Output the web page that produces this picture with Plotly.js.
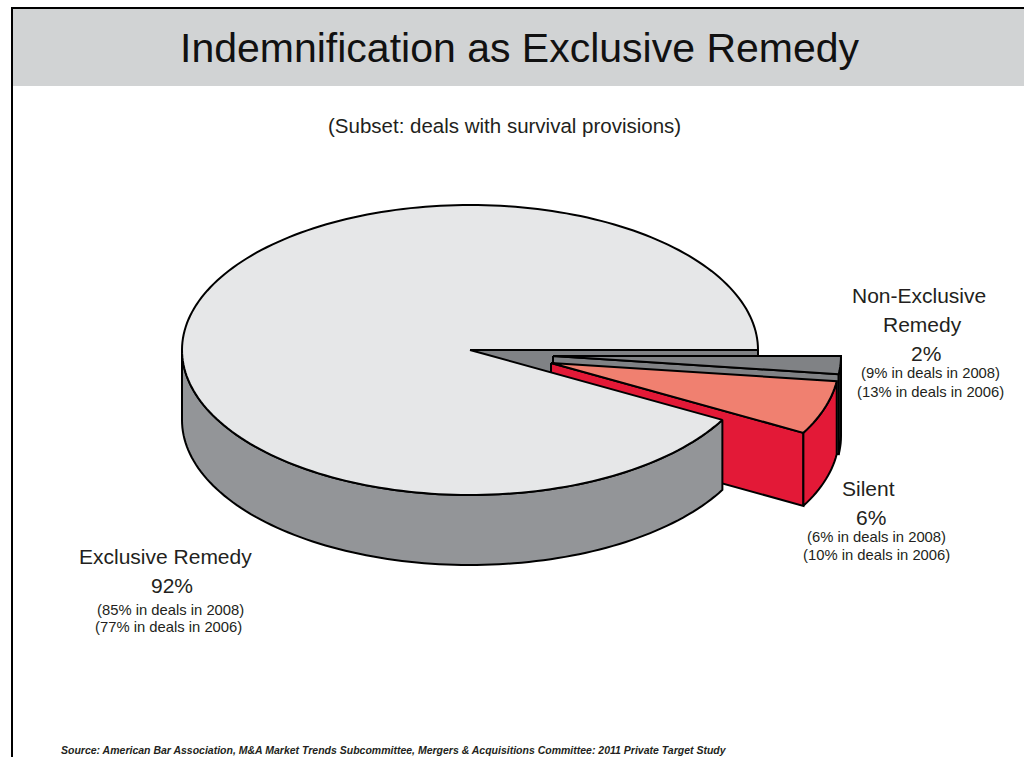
<!DOCTYPE html>
<html>
<head>
<meta charset="utf-8">
<script src="https://cdn.plot.ly/plotly-3.0.1.min.js"></script>
<style>html,body{margin:0;padding:0;background:#fff}#chart{width:1024px;height:757px}</style>
</head>
<body>
<div id="chart"></div>
<script>
// Survey shares per category, percent
const categories = ["Non-Exclusive Remedy", "Silent", "Exclusive Remedy"];
const shares2011 = [2, 6, 92];
const shares2008 = [9, 6, 85];
const shares2006 = [13, 10, 77];

// Oblique pie projection, in plot units
const radiusX = 288, radiusY = 145;
const centers = [[553, 356], [551, 363], [470, 350]];
const depths = [80, 73, 70];

const TOP_FILL = ["#808285", "#f08070", "#e6e7e8"];
const WALL_FILL = ["#414042", "#e31937", "#939598"];
const CUT_FILL = ["#808285", "#e31937", "#939598"];
const INK = "#231f20";
const FONT = "Liberation Sans, Arial, sans-serif";

// Slice boundaries in degrees, clockwise on screen from the 3 o'clock ray
const bounds = [0];
shares2011.forEach(v => bounds.push(bounds[bounds.length - 1] + v * 3.6));

function arc(i, a0, a1, dy) {
  const xs = [], ys = [];
  const n = Math.max(2, Math.ceil(Math.abs(a1 - a0) / 1.5));
  for (let k = 0; k <= n; k++) {
    const t = (a0 + (a1 - a0) * k / n) * Math.PI / 180;
    xs.push(centers[i][0] + radiusX * Math.cos(t));
    ys.push(centers[i][1] + radiusY * Math.sin(t) + dy);
  }
  return {xs, ys};
}

function poly(xs, ys, fill, lw) {
  return {
    type: "scatter", mode: "lines", x: xs.concat(xs[0]), y: ys.concat(ys[0]),
    fill: "toself", fillcolor: fill,
    line: {color: "#000", width: lw === undefined ? 2 : lw, simplify: false},
    hoverinfo: "skip", showlegend: false
  };
}

function topFace(i) {
  const a = arc(i, bounds[i], bounds[i + 1], 0);
  return poly([centers[i][0]].concat(a.xs), [centers[i][1]].concat(a.ys), TOP_FILL[i]);
}
function outerWall(i, a0, a1) {
  const up = arc(i, a0, a1, 0), low = arc(i, a1, a0, depths[i]);
  return poly(up.xs.concat(low.xs), up.ys.concat(low.ys), WALL_FILL[i]);
}
// Flat cut face running from the centre out along one slice boundary
function cutWall(i, deg) {
  const e = arc(i, deg, deg, 0), cx = centers[i][0], cy = centers[i][1], d = depths[i];
  return poly([cx, e.xs[0], e.xs[0], cx], [cy, e.ys[0], e.ys[0] + d, cy + d], CUT_FILL[i]);
}

const NON = 0, SILENT = 1, MAIN = 2;
const traces = [
  // back to front
  poly([470, 758, 758, 470], [350, 350, 420, 420], TOP_FILL[NON]),
  cutWall(NON, bounds[1]), outerWall(NON, bounds[0], bounds[1]), topFace(NON),
  cutWall(SILENT, bounds[2]), outerWall(SILENT, bounds[1], bounds[2]), topFace(SILENT),
  outerWall(MAIN, bounds[2], 180), topFace(MAIN)
];

function label(x, y, text, size, extra) {
  return Object.assign({
    x, y, text, xref: "x", yref: "y", xanchor: "center", yanchor: "middle",
    showarrow: false, font: {family: FONT, size, color: INK}
  }, extra || {});
}
const pct = v => v + "%";
const dealLine = (v, yr) => "(" + v + "% in deals in " + yr + ")";

const annotations = [
  label(520, 48, "Indemnification as Exclusive Remedy", 41, {font: {family: FONT, size: 41, color: "#111"}}),
  label(504, 125, "(Subset: deals with survival provisions)", 20.5),

  label(919, 295, "Non-Exclusive", 21),
  label(922, 324, "Remedy", 21),
  label(926, 353, pct(shares2011[NON]), 21),
  label(930, 373, dealLine(shares2008[NON], 2008), 14.8),
  label(930, 392, dealLine(shares2006[NON], 2006), 14.8),

  label(868, 488, categories[SILENT], 21),
  label(871, 517, pct(shares2011[SILENT]), 21),
  label(876, 537, dealLine(shares2008[SILENT], 2008), 14.8),
  label(876, 555, dealLine(shares2006[SILENT], 2006), 14.8),

  label(165, 556, categories[MAIN], 21),
  label(172, 585, pct(shares2011[MAIN]), 21),
  label(170, 610, dealLine(shares2008[MAIN], 2008), 14.8),
  label(168, 627, dealLine(shares2006[MAIN], 2006), 14.8),

  label(394, 750, "<b><i>Source: American Bar Association, M&amp;A Market Trends Subcommittee, Mergers &amp; Acquisitions Committee: 2011 Private Target Study</i></b>", 10.5)
];

const shapes = [
  {type: "rect", layer: "below", xref: "x", yref: "y", x0: 13, x1: 1024, y0: 9, y1: 86,
   fillcolor: "#d1d3d4", line: {width: 0}},
  {type: "line", layer: "above", xref: "x", yref: "y", x0: 12, x1: 1024, y0: 8, y1: 8,
   line: {color: "#000", width: 2}},
  {type: "line", layer: "above", xref: "x", yref: "y", x0: 12, x1: 12, y0: 7, y1: 757,
   line: {color: "#000", width: 2}}
];

const hidden = {visible: false, fixedrange: true};
Plotly.newPlot("chart", traces, {
  width: 1024, height: 757,
  margin: {l: 0, r: 0, t: 0, b: 0},
  paper_bgcolor: "#fff", plot_bgcolor: "#fff",
  showlegend: false,
  xaxis: Object.assign({range: [0, 1024]}, hidden),
  yaxis: Object.assign({range: [757, 0]}, hidden),
  annotations, shapes
}, {displayModeBar: false, staticPlot: true});
</script>
</body>
</html>
